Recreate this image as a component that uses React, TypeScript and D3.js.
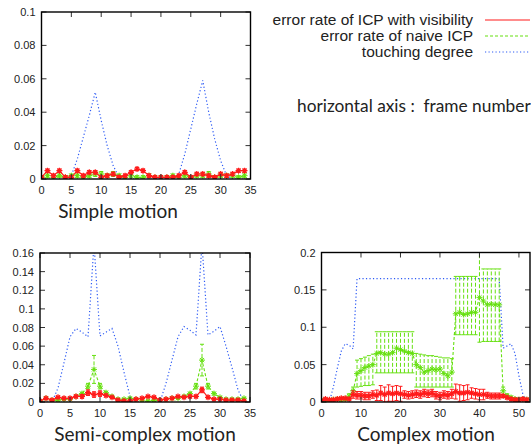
import React from "react";
import * as d3 from "d3";

// frame numbers
const framesShort = d3.range(35);
const framesLong = d3.range(53);

// Simple motion
const simpleVis = [0.001, 0.005, 0.002, 0.005, 0.001, 0.001, 0.005, 0.002, 0.004, 0.004, 0.001, 0.002, 0.003, 0.001, 0.002, 0.004, 0.006, 0.005, 0.002, 0.001, 0.001, 0.001, 0.001, 0.002, 0.004, 0.001, 0.003, 0.003, 0.002, 0.001, 0.003, 0.002, 0.003, 0.005, 0.005];
const simpleVisErr = [0.001, 0.001, 0.001, 0.001, 0.001, 0.001, 0.001, 0.001, 0.001, 0.001, 0.001, 0.001, 0.001, 0.001, 0.001, 0.001, 0.001, 0.001, 0.001, 0.001, 0.001, 0.001, 0.001, 0.001, 0.001, 0.001, 0.001, 0.001, 0.001, 0.001, 0.001, 0.001, 0.001, 0.001, 0.001];
const simpleNaive = [0.001, 0.002, 0.001, 0.002, 0.001, 0.002, 0.002, 0.001, 0.002, 0.003, 0.003, 0.002, 0.003, 0.002, 0.001, 0.002, 0.001, 0.001, 0.002, 0.001, 0.001, 0.001, 0.002, 0.001, 0.002, 0.001, 0.002, 0.002, 0.003, 0.001, 0.002, 0.002, 0.002, 0.001, 0.002];
const simpleNaiveErr = [0.001, 0.001, 0.001, 0.001, 0.001, 0.001, 0.001, 0.001, 0.001, 0.0015, 0.0015, 0.001, 0.0015, 0.001, 0.001, 0.001, 0.001, 0.001, 0.001, 0.001, 0.001, 0.001, 0.001, 0.001, 0.001, 0.001, 0.001, 0.001, 0.0015, 0.001, 0.001, 0.001, 0.001, 0.001, 0.001];
const simpleTouch = [0, 0, 0, 0, 0, 0.002, 0.012, 0.025, 0.038, 0.052, 0.035, 0.02, 0.008, 0.001, 0, 0, 0, 0, 0, 0, 0, 0, 0, 0.003, 0.015, 0.03, 0.045, 0.059, 0.04, 0.024, 0.011, 0.002, 0, 0, 0];

// Semi-complex motion
const semiVis = [0.001, 0.004, 0.002, 0.005, 0.004, 0.004, 0.006, 0.006, 0.01, 0.008, 0.009, 0.007, 0.005, 0.002, 0.001, 0.001, 0.003, 0.004, 0.006, 0.005, 0.002, 0.003, 0.004, 0.006, 0.005, 0.006, 0.006, 0.013, 0.005, 0.003, 0.003, 0.002, 0.002, 0.002, 0.001];
const semiVisErr = [0.001, 0.001, 0.001, 0.001, 0.001, 0.001, 0.0015, 0.002, 0.003, 0.003, 0.003, 0.0015, 0.001, 0.001, 0.001, 0.001, 0.001, 0.001, 0.001, 0.001, 0.001, 0.001, 0.001, 0.001, 0.001, 0.0015, 0.0015, 0.003, 0.0015, 0.001, 0.001, 0.001, 0.001, 0.001, 0.001];
const semiNaive = [0.001, 0.004, 0.002, 0.002, 0.003, 0.003, 0.006, 0.009, 0.017, 0.035, 0.017, 0.01, 0.006, 0.003, 0.003, 0.004, 0.003, 0.002, 0.001, 0.002, 0.002, 0.003, 0.004, 0.004, 0.006, 0.009, 0.017, 0.045, 0.017, 0.009, 0.005, 0.003, 0.003, 0.003, 0.004];
const semiNaiveErr = [0.001, 0.001, 0.001, 0.001, 0.001, 0.001, 0.001, 0.0015, 0.003, 0.015, 0.003, 0.0015, 0.001, 0.001, 0.001, 0.001, 0.001, 0.001, 0.001, 0.001, 0.001, 0.001, 0.001, 0.001, 0.001, 0.0015, 0.003, 0.017, 0.003, 0.0015, 0.001, 0.001, 0.001, 0.001, 0.001];
const semiTouch = [0, 0, 0, 0.015, 0.042, 0.07, 0.079, 0.075, 0.07, 0.17, 0.071, 0.075, 0.079, 0.06, 0.032, 0.006, 0, 0, 0, 0, 0, 0.02, 0.045, 0.07, 0.081, 0.077, 0.072, 0.17, 0.072, 0.076, 0.081, 0.06, 0.037, 0.013, 0];

// Complex motion
const complexVis = [0.002, 0.004, 0.003, 0.003, 0.004, 0.005, 0.005, 0.004, 0.01, 0.009, 0.009, 0.008, 0.008, 0.01, 0.009, 0.012, 0.01, 0.012, 0.011, 0.012, 0.011, 0.01, 0.009, 0.01, 0.011, 0.01, 0.012, 0.011, 0.012, 0.009, 0.008, 0.01, 0.009, 0.011, 0.014, 0.012, 0.012, 0.013, 0.012, 0.011, 0.01, 0.01, 0.009, 0.008, 0.008, 0.008, 0.008, 0.006, 0.004, 0.003, 0.003, 0.004, 0.003];
const complexVisErr = [0.001, 0.001, 0.001, 0.001, 0.001, 0.001, 0.001, 0.001, 0.005, 0.005, 0.005, 0.005, 0.005, 0.005, 0.007, 0.01, 0.01, 0.011, 0.01, 0.01, 0.01, 0.005, 0.005, 0.005, 0.005, 0.005, 0.005, 0.005, 0.005, 0.005, 0.005, 0.005, 0.005, 0.006, 0.01, 0.011, 0.01, 0.01, 0.007, 0.007, 0.007, 0.007, 0.004, 0.004, 0.004, 0.004, 0.002, 0.002, 0.002, 0.002, 0.002, 0.002, 0.002];
const complexNaive = [0.002, 0.003, 0.002, 0.003, 0.004, 0.003, 0.004, 0.008, 0.015, 0.038, 0.042, 0.046, 0.048, 0.05, 0.065, 0.066, 0.064, 0.064, 0.066, 0.072, 0.07, 0.068, 0.066, 0.065, 0.05, 0.046, 0.04, 0.042, 0.044, 0.043, 0.044, 0.038, 0.035, 0.04, 0.118, 0.12, 0.117, 0.118, 0.12, 0.12, 0.14, 0.135, 0.13, 0.131, 0.13, 0.13, 0.015, 0.008, 0.006, 0.004, 0.003, 0.004, 0.003];
const complexNaiveLo = [0, 0.001, 0.001, 0.001, 0.002, 0.001, 0.002, 0.005, 0.01, 0.02, 0.021, 0.022, 0.022, 0.023, 0.039, 0.039, 0.039, 0.039, 0.039, 0.039, 0.039, 0.039, 0.039, 0.039, 0.02, 0.02, 0.02, 0.02, 0.02, 0.02, 0.02, 0.02, 0.02, 0.02, 0.09, 0.09, 0.09, 0.09, 0.09, 0.09, 0.08, 0.081, 0.081, 0.081, 0.081, 0.081, 0.01, 0.005, 0.004, 0.002, 0.001, 0.002, 0.001];
const complexNaiveHi = [0.004, 0.005, 0.004, 0.005, 0.006, 0.005, 0.006, 0.011, 0.02, 0.056, 0.058, 0.06, 0.062, 0.064, 0.094, 0.094, 0.094, 0.094, 0.094, 0.094, 0.094, 0.094, 0.094, 0.094, 0.065, 0.064, 0.063, 0.062, 0.062, 0.061, 0.06, 0.059, 0.059, 0.058, 0.168, 0.168, 0.168, 0.168, 0.168, 0.168, 0.2, 0.178, 0.178, 0.178, 0.178, 0.178, 0.02, 0.011, 0.008, 0.006, 0.005, 0.006, 0.005];
const complexTouch = [0, 0, 0, 0.02, 0.045, 0.068, 0.078, 0.076, 0.071, 0.165, 0.165, 0.165, 0.165, 0.165, 0.165, 0.165, 0.165, 0.165, 0.165, 0.165, 0.165, 0.165, 0.165, 0.165, 0.165, 0.165, 0.165, 0.165, 0.165, 0.165, 0.165, 0.165, 0.165, 0.165, 0.165, 0.165, 0.165, 0.165, 0.165, 0.165, 0.165, 0.165, 0.165, 0.165, 0.165, 0.165, 0.072, 0.075, 0.078, 0.065, 0.035, 0.01, 0];

// axes
const simpleYTicks = [0, 0.02, 0.04, 0.06, 0.08, 0.1];
const semiYTicks = [0, 0.02, 0.04, 0.06, 0.08, 0.1, 0.12, 0.14, 0.16];
const complexYTicks = [0, 0.05, 0.1, 0.15, 0.2];
const shortXTicks = [0, 5, 10, 15, 20, 25, 30, 35];
const longXTicks = [0, 10, 20, 30, 40, 50];

const legendLabels = ["error rate of ICP with visibility", "error rate of naive ICP", "touching degree"];

const RED = "#ff1a1a";
const GREEN = "#66e010";
const BLUE = "#2f5cf5";
const tickFont = "'Liberation Sans', Arial, sans-serif";
const titleFont = "Lato, 'Open Sans', sans-serif";

const star = (s) =>
  `M${-s},0H${s}M0,${-s}V${s}M${-s * 0.7},${-s * 0.7}L${s * 0.7},${s * 0.7}M${-s * 0.7},${s * 0.7}L${s * 0.7},${-s * 0.7}`;

const fmt = (v) => String(+v.toFixed(3));

function Panel({ id, box, xMax, yMax, xTicks, yTicks, frames, vis, visLo, visHi, naive, naiveLo, naiveHi, touch, title, titleX }) {
  const x = d3.scaleLinear().domain([0, xMax]).range([box.left, box.right]);
  const y = d3.scaleLinear().domain([0, yMax]).range([box.bottom, box.top]);
  const line = d3.line().x((d) => x(d[0])).y((d) => y(d[1]));
  const pts = (arr) => frames.map((f, i) => [f, arr[i]]);

  const errBars = (lo, hi, color, dash) =>
    frames.map((f, i) => {
      const cx = x(f);
      const y0 = y(lo[i]);
      const y1 = y(hi[i]);
      return (
        <g key={i} stroke={color} strokeWidth={1} fill="none">
          <line x1={cx} x2={cx} y1={y0} y2={y1} strokeDasharray={dash} />
          <line x1={cx - 2} x2={cx + 2} y1={y0} y2={y0} />
          <line x1={cx - 2} x2={cx + 2} y1={y1} y2={y1} />
        </g>
      );
    });

  return (
    <g>
      <defs>
        <clipPath id={id}>
          <rect x={box.left} y={box.top} width={box.right - box.left} height={box.bottom - box.top} />
        </clipPath>
      </defs>
      <g clipPath={`url(#${id})`}>
        <path d={line(pts(touch))} fill="none" stroke={BLUE} strokeWidth={1.2} strokeDasharray="1.2,2.3" />
        {errBars(naiveLo, naiveHi, GREEN, "4,2")}
        <path d={line(pts(naive))} fill="none" stroke={GREEN} strokeWidth={1.1} strokeDasharray="3,2" />
        {frames.map((f, i) => (
          <path key={i} d={star(3)} transform={`translate(${x(f)},${y(naive[i])})`} stroke={GREEN} strokeWidth={1} />
        ))}
        {errBars(visLo, visHi, RED, "none")}
        <path d={line(pts(vis))} fill="none" stroke={RED} strokeWidth={1.2} />
        {frames.map((f, i) => (
          <path key={i} d={star(3)} transform={`translate(${x(f)},${y(vis[i])})`} stroke={RED} strokeWidth={1.2} />
        ))}
      </g>
      {yTicks.map((t) => (
        <g key={t} stroke="#333" strokeWidth={1}>
          <line x1={box.left} x2={box.left + 5} y1={y(t)} y2={y(t)} />
          <line x1={box.right - 5} x2={box.right} y1={y(t)} y2={y(t)} />
        </g>
      ))}
      {xTicks.map((t) => (
        <g key={t} stroke="#333" strokeWidth={1}>
          <line x1={x(t)} x2={x(t)} y1={box.bottom} y2={box.bottom - 5} />
          <line x1={x(t)} x2={x(t)} y1={box.top} y2={box.top + 5} />
        </g>
      ))}
      <rect x={box.left} y={box.top} width={box.right - box.left} height={box.bottom - box.top} fill="none" stroke="#000" strokeWidth={1.4} />
      {yTicks.map((t) => (
        <text key={t} x={box.left - 6} y={y(t) + 4} textAnchor="end" fontFamily={tickFont} fontSize={11} fill="#222">
          {fmt(t)}
        </text>
      ))}
      {xTicks.map((t) => (
        <text key={t} x={x(t)} y={box.bottom + 15} textAnchor="middle" fontFamily={tickFont} fontSize={11} fill="#222">
          {fmt(t)}
        </text>
      ))}
      <text x={titleX} y={box.bottom + 39} textAnchor="middle" fontFamily={titleFont} fontSize={19} fill="#222">
        {title}
      </text>
    </g>
  );
}

const sub = (a, b) => a.map((v, i) => v - b[i]);
const add = (a, b) => a.map((v, i) => v + b[i]);

export default function App() {
  const legendColors = [RED, GREEN, BLUE];
  const legendDash = ["none", "3,2", "1.2,2.3"];
  return (
    <svg width={531} height={448} style={{ position: "absolute", left: 0, top: 0, background: "#fff" }}>
      <Panel
        id="c1"
        box={{ left: 41.5, right: 250.5, top: 12, bottom: 179 }}
        xMax={35}
        yMax={0.1}
        xTicks={shortXTicks}
        yTicks={simpleYTicks}
        frames={framesShort}
        vis={simpleVis}
        visLo={sub(simpleVis, simpleVisErr)}
        visHi={add(simpleVis, simpleVisErr)}
        naive={simpleNaive}
        naiveLo={sub(simpleNaive, simpleNaiveErr)}
        naiveHi={add(simpleNaive, simpleNaiveErr)}
        touch={simpleTouch}
        title="Simple motion"
        titleX={118}
      />
      <Panel
        id="c2"
        box={{ left: 40, right: 250, top: 253, bottom: 402 }}
        xMax={35}
        yMax={0.16}
        xTicks={shortXTicks}
        yTicks={semiYTicks}
        frames={framesShort}
        vis={semiVis}
        visLo={sub(semiVis, semiVisErr)}
        visHi={add(semiVis, semiVisErr)}
        naive={semiNaive}
        naiveLo={sub(semiNaive, semiNaiveErr)}
        naiveHi={add(semiNaive, semiNaiveErr)}
        touch={semiTouch}
        title="Semi-complex motion"
        titleX={145}
      />
      <Panel
        id="c3"
        box={{ left: 321.5, right: 530, top: 252.5, bottom: 402 }}
        xMax={52.8}
        yMax={0.2}
        xTicks={longXTicks}
        yTicks={complexYTicks}
        frames={framesLong}
        vis={complexVis}
        visLo={sub(complexVis, complexVisErr)}
        visHi={add(complexVis, complexVisErr)}
        naive={complexNaive}
        naiveLo={complexNaiveLo}
        naiveHi={complexNaiveHi}
        touch={complexTouch}
        title="Complex motion"
        titleX={426}
      />
      {legendLabels.map((l, i) => (
        <g key={l}>
          <text x={473} y={25 + i * 16} textAnchor="end" fontFamily={tickFont} fontSize={15.5} fill="#222">
            {l}
          </text>
          <line x1={485} x2={530} y1={20 + i * 16} y2={20 + i * 16} stroke={legendColors[i]} strokeWidth={1.2} strokeDasharray={legendDash[i]} />
        </g>
      ))}
      <text x={297} y={112} fontFamily={titleFont} fontSize={17.3} fill="#222" xmlSpace="preserve">
        horizontal axis :  frame number
      </text>
    </svg>
  );
}
